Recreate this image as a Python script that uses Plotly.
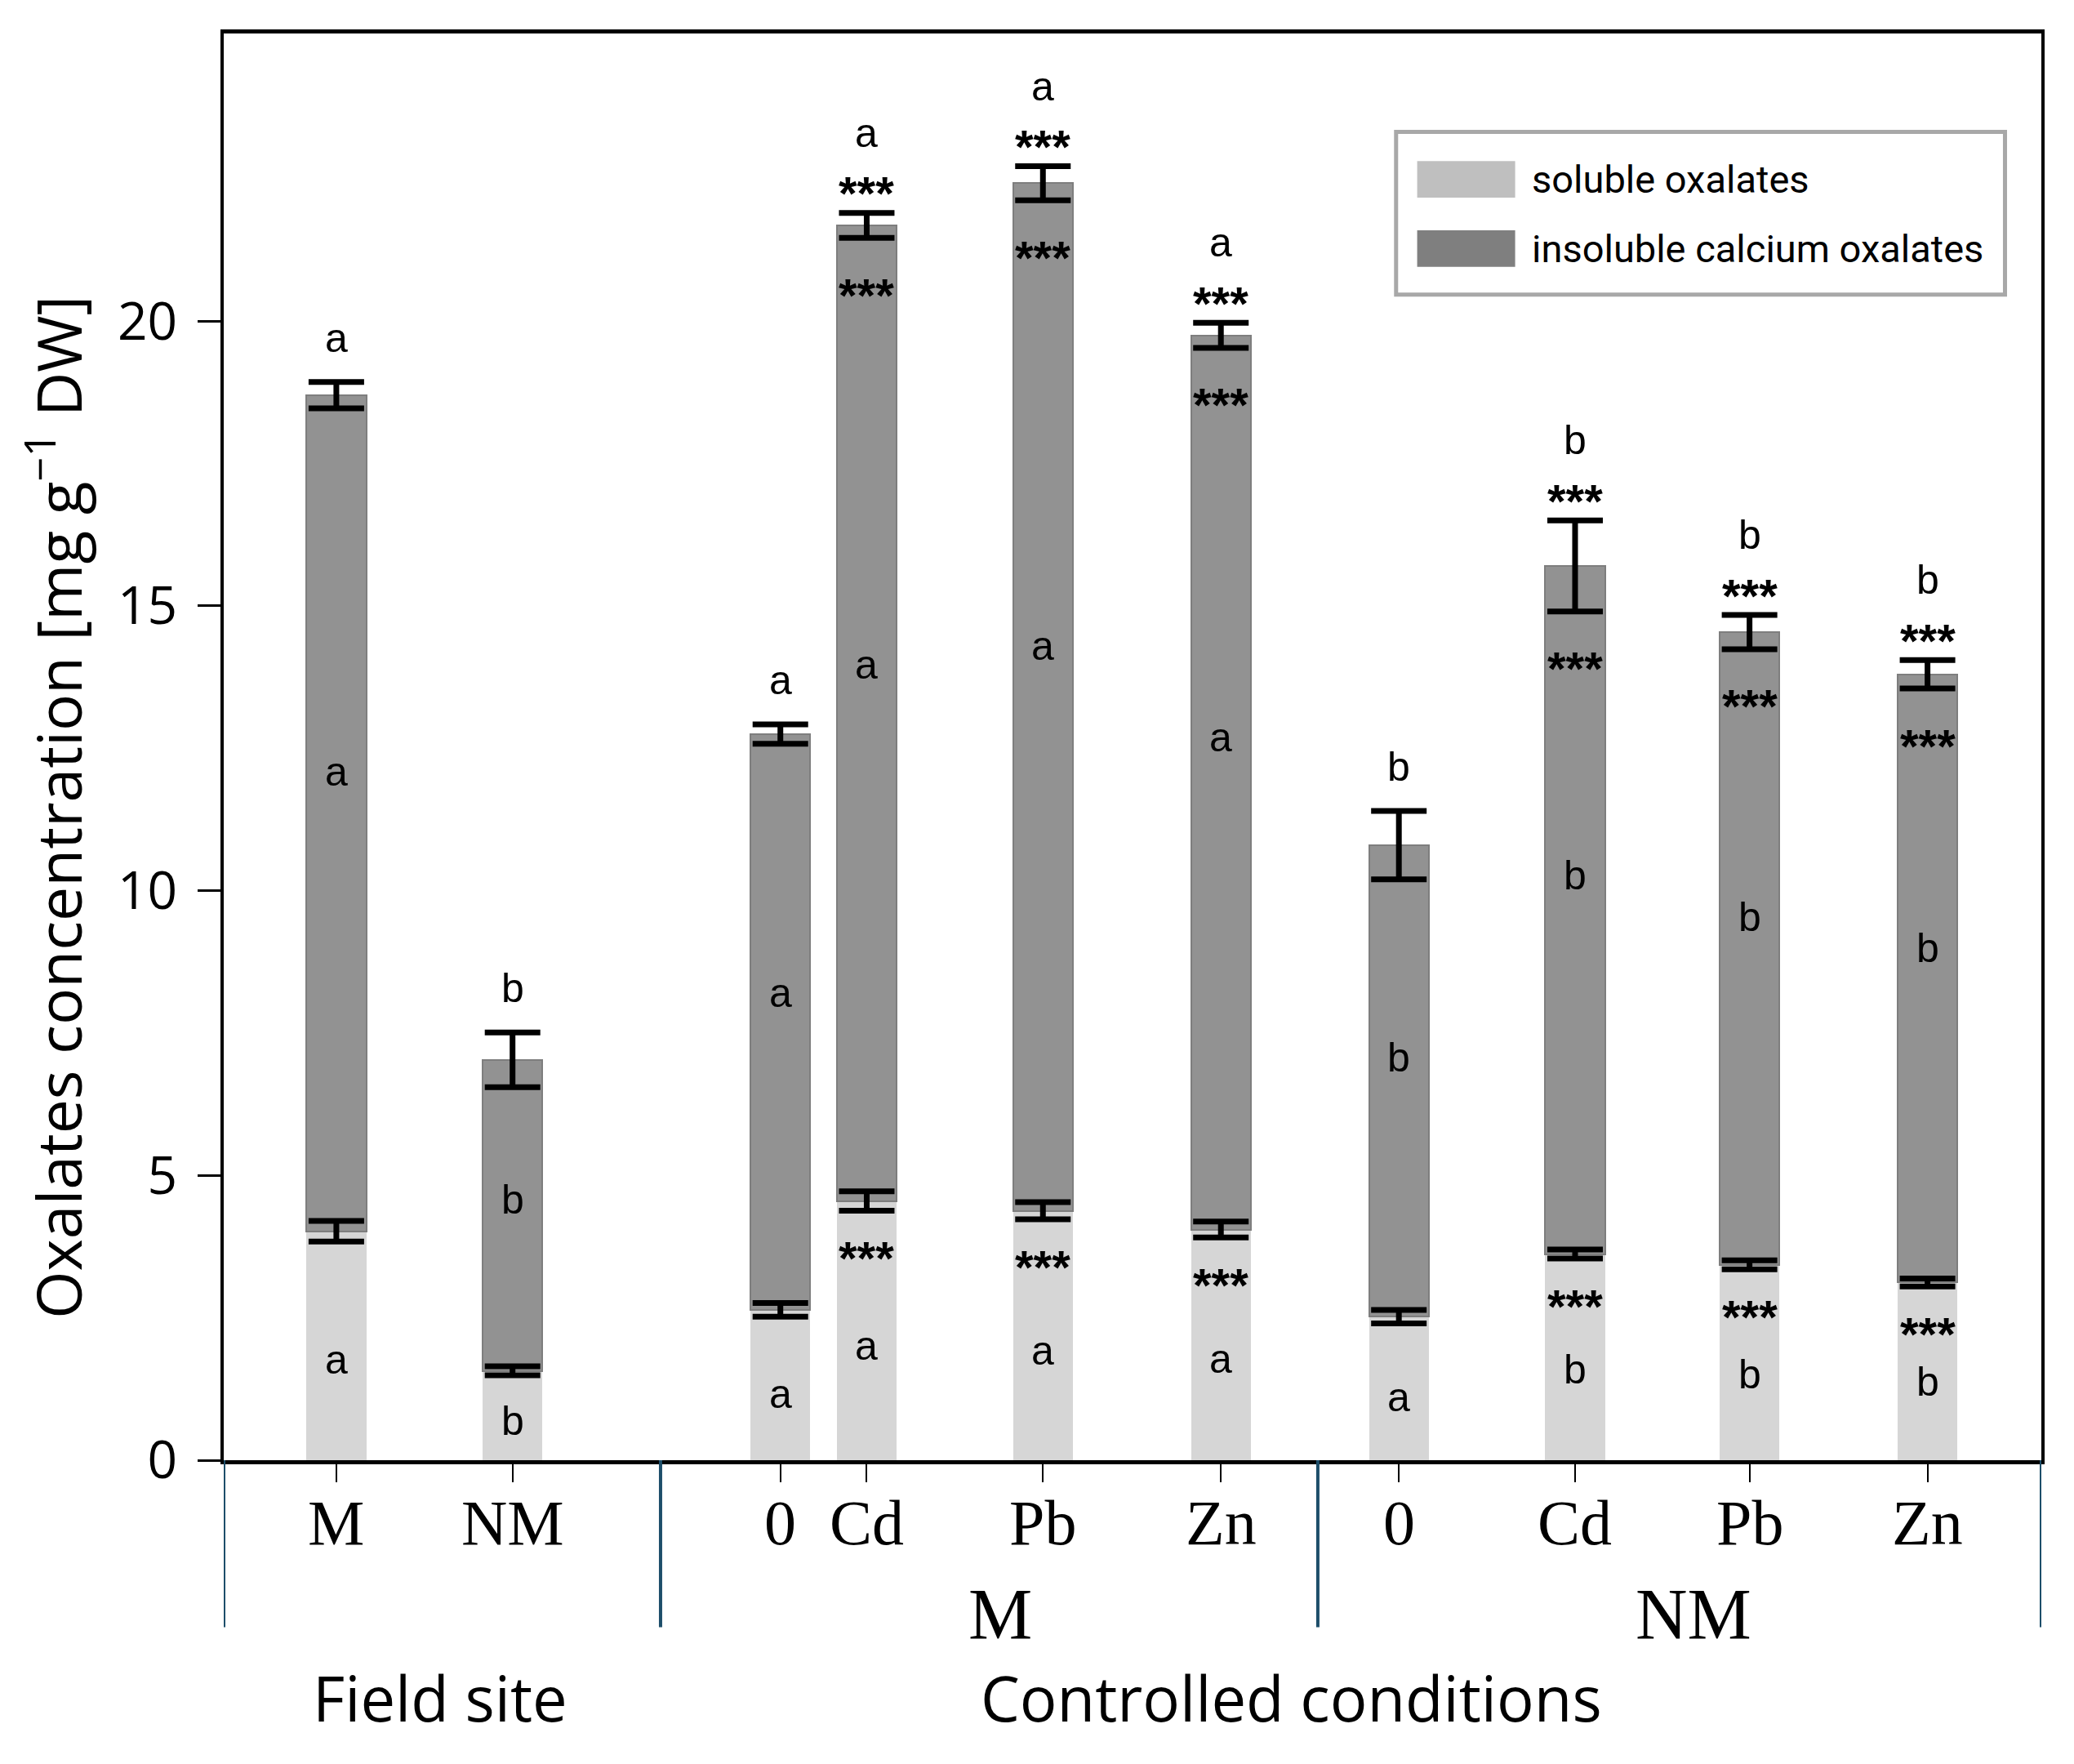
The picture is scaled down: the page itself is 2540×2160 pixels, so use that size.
import plotly.graph_objects as go

# ---------------- data ----------------
tick_labels = ["M", "NM", "0", "Cd", "Pb", "Zn", "0", "Cd", "Pb", "Zn"]
x_pos = [0.0, 1.0, 2.52, 3.01, 4.01, 5.02, 6.03, 7.03, 8.02, 9.03]

soluble = [4.02, 1.57, 2.64, 4.55, 4.38, 4.05, 2.52, 3.62, 3.43, 3.12]
insoluble = [14.68, 5.46, 10.11, 17.13, 18.04, 15.70, 8.28, 12.08, 11.11, 10.68]
soluble_err = [0.18, 0.08, 0.12, 0.17, 0.15, 0.14, 0.12, 0.08, 0.08, 0.07]
total_err = [0.23, 0.48, 0.17, 0.22, 0.30, 0.22, 0.60, 0.80, 0.30, 0.25]

top_letters = ["a", "b", "a", "a", "a", "a", "b", "b", "b", "b"]
insol_letters = ["a", "b", "a", "a", "a", "a", "b", "b", "b", "b"]
sol_letters = ["a", "b", "a", "a", "a", "a", "a", "b", "b", "b"]
stars = ["", "", "", "***", "***", "***", "", "***", "***", "***"]

separators = [-0.639, 1.84, 5.57, 9.676]
group_labels = ["M", "NM"]
group_x = [3.77, 7.70]
section_labels = ["Field site", "Controlled conditions"]
section_x = [0.59, 5.42]

y_title = "Oxalates concentration [mg g<sup>−1</sup> DW]"
legend_names = ["soluble oxalates", "insoluble calcium oxalates"]

# ---------------- styles ----------------
C_SOL = "#d6d6d6"
C_INS = "#929292"
SANS = "Open Sans"
LET = "Liberation Sans"
SERIF = "Liberation Serif"
BLACK = "black"

total = [s + i for s, i in zip(soluble, insoluble)]

fig = go.Figure()
fig.add_trace(go.Bar(x=x_pos, y=soluble, width=0.34, marker=dict(color=C_SOL, line=dict(width=0)),
                     name=legend_names[0], showlegend=False))
fig.add_trace(go.Bar(x=x_pos, y=insoluble, width=0.34,
                     marker=dict(color=C_INS, line=dict(width=2, color="#7e7e7e")),
                     name=legend_names[1], showlegend=False))
# error bars drawn above the bars
for yv, ev in [(soluble, soluble_err), (total, total_err)]:
    fig.add_trace(go.Scatter(x=x_pos, y=yv, mode="markers", marker=dict(size=1, opacity=0),
                             error_y=dict(type="data", array=ev, visible=True, color=BLACK,
                                          thickness=7, width=34),
                             showlegend=False, hoverinfo="skip"))

ann = []
STAR_FONT = dict(size=58, family=LET, color=BLACK)
LET_FONT = dict(size=50, family=LET, color=BLACK)
for i, xp in enumerate(x_pos):
    top = total[i] + total_err[i]
    if stars[i]:
        ann.append(dict(x=xp, y=top, text="<b>" + stars[i] + "</b>", yshift=24, font=STAR_FONT))
        ann.append(dict(x=xp, y=top, text=top_letters[i], yshift=98, font=LET_FONT))
        ann.append(dict(x=xp, y=total[i] - total_err[i], text="<b>" + stars[i] + "</b>", yshift=-70,
                        font=STAR_FONT))
        ann.append(dict(x=xp, y=soluble[i] - soluble_err[i], text="<b>" + stars[i] + "</b>", yshift=-58,
                        font=STAR_FONT))
    else:
        ann.append(dict(x=xp, y=top, text=top_letters[i], yshift=54, font=LET_FONT))
    ann.append(dict(x=xp, y=soluble[i] + 0.55 * insoluble[i], text=insol_letters[i], font=LET_FONT))
    ann.append(dict(x=xp, y=soluble[i] * 0.44, text=sol_letters[i], font=LET_FONT))
for a in ann:
    a.update(xref="x", yref="y", showarrow=False, yanchor="middle")

# category labels under the axis
for lab, xp in zip(tick_labels, x_pos):
    ann.append(dict(x=xp, y=-0.044, xref="x", yref="paper", text=lab, showarrow=False,
                    yanchor="middle", font=dict(size=78, family=SERIF, color=BLACK)))
for g, gx in zip(group_labels, group_x):
    ann.append(dict(x=gx, y=-0.108, xref="x", yref="paper", text=g, showarrow=False,
                    yanchor="middle", font=dict(size=88, family=SERIF, color=BLACK)))
for s, sx in zip(section_labels, section_x):
    ann.append(dict(x=sx, y=-0.166, xref="x", yref="paper", text=s, showarrow=False,
                    yanchor="middle", font=dict(size=76, family=SANS, color=BLACK)))
# y axis title
ann.append(dict(x=-0.093, y=0.458, xref="paper", yref="paper", text=y_title, showarrow=False,
                textangle=-90, xanchor="center", yanchor="middle",
                font=dict(size=75, family=SANS, color=BLACK)))

# legend drawn as a boxed key
shapes = []
shapes.append(dict(type="rect", xref="paper", yref="paper", x0=0.645, x1=0.980, y0=0.817, y1=0.931,
                   line=dict(color="#a8a8a8", width=5), fillcolor="white", layer="above"))
legend_colors = ["#bfbfbf", "#7f7f7f"]
legend_y = [0.8978, 0.8493]
for name, col, ly in zip(legend_names, legend_colors, legend_y):
    shapes.append(dict(type="rect", xref="paper", yref="paper", x0=0.6566, x1=0.7105,
                       y0=ly - 0.0128, y1=ly + 0.0128, fillcolor=col, line=dict(width=0), layer="above"))
    ann.append(dict(x=0.7186, y=ly, xref="paper", yref="paper", text=name, showarrow=False,
                    xanchor="left", yanchor="middle", font=dict(size=47, family="Roboto", color=BLACK)))

for sx in separators:
    shapes.append(dict(type="line", xref="x", yref="paper", x0=sx, x1=sx, y0=0, y1=-0.117,
                       line=dict(color="#1d4e6a", width=4)))

fig.update_layout(
    width=2540, height=2160,
    margin=dict(l=266, r=48, t=33, b=380),
    paper_bgcolor="white", plot_bgcolor="white",
    barmode="stack", bargap=0,
    annotations=ann, shapes=shapes,
    showlegend=False,
)
fig.update_xaxes(range=[-0.639, 9.676], tickvals=x_pos, showticklabels=False,
                 ticks="outside", ticklen=22, tickwidth=2, tickcolor=BLACK,
                 showline=True, linecolor=BLACK, linewidth=5, mirror=True,
                 showgrid=False, zeroline=False)
fig.update_yaxes(range=[0, 25.05], tickvals=[0, 5, 10, 15, 20],
                 ticks="outside", ticklen=28, tickwidth=3, tickcolor=BLACK,
                 tickfont=dict(size=64, family=SANS, color=BLACK), ticklabelstandoff=12,
                 showline=True, linecolor=BLACK, linewidth=4, mirror=True,
                 showgrid=False, zeroline=False)

fig.write_html("out.html")
